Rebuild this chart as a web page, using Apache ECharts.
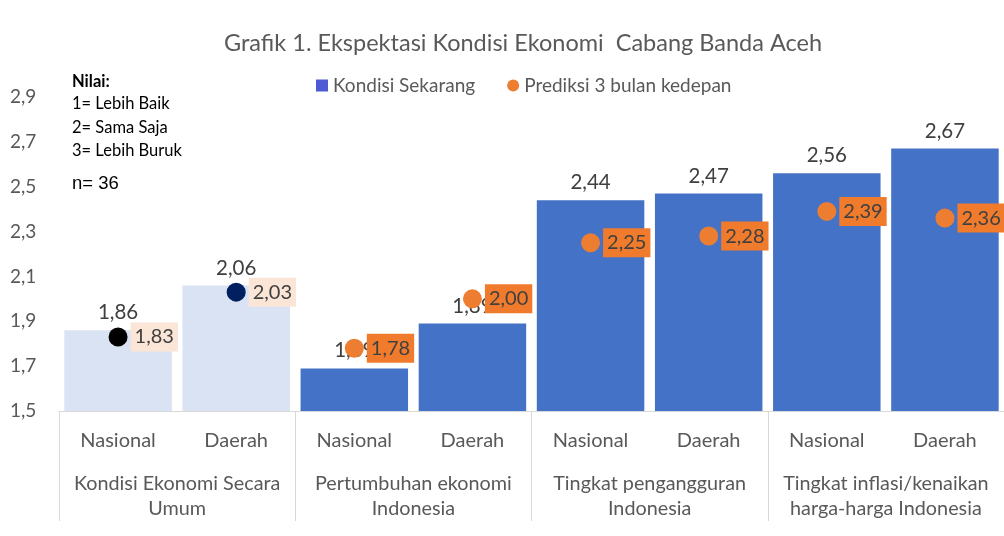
<!DOCTYPE html>
<html>
<head>
<meta charset="utf-8">
<script src="https://cdn.jsdelivr.net/npm/echarts@6/dist/echarts.min.js"></script>
<style>
html, body { margin: 0; padding: 0; background: #fff; }
#chart { width: 1004px; height: 536px; }
</style>
</head>
<body>
<div id="chart"></div>
<script>
// data
var groups = ['Kondisi Ekonomi Secara\nUmum', 'Pertumbuhan ekonomi\nIndonesia', 'Tingkat pengangguran\nIndonesia', 'Tingkat inflasi/kenaikan\nharga-harga Indonesia'];
var categories = ['Nasional', 'Daerah', 'Nasional', 'Daerah', 'Nasional', 'Daerah', 'Nasional', 'Daerah'];
var kondisiSekarang = [1.86, 2.06, 1.69, 1.89, 2.44, 2.47, 2.56, 2.67];
var prediksi = [1.83, 2.03, 1.78, 2.00, 2.25, 2.28, 2.39, 2.36];
var yTicks = [1.5, 1.7, 1.9, 2.1, 2.3, 2.5, 2.7, 2.9];

var FONT = 'Lato';
var fmt = function (v) { return v.toFixed(2).replace('.', ','); };

var barData = kondisiSekarang.map(function (v, i) {
    return { value: v, itemStyle: { color: i < 2 ? '#DAE3F3' : '#4472C6' } };
});
var dotColors = ['#000000', '#002060'];
var dotData = prediksi.map(function (v, i) {
    return {
        value: v,
        itemStyle: { color: i < 2 ? dotColors[i] : '#ED7D31' },
        label: { backgroundColor: i < 2 ? '#FBE5D6' : '#F07B2C' }
    };
});

var chart = echarts.init(document.getElementById('chart'));
chart.setOption({
    animation: false,
    textStyle: { fontFamily: FONT },
    title: {
        text: 'Grafik 1. Ekspektasi Kondisi Ekonomi  Cabang Banda Aceh',
        left: 219,
        top: 26,
        textStyle: { fontFamily: FONT, fontSize: 23.5, fontWeight: 'normal', color: '#595959' }
    },
    legend: {
        left: 311,
        top: 71,
        itemGap: 32,
        itemWidth: 12,
        itemHeight: 12,
        textStyle: { fontFamily: FONT, fontSize: 19, color: '#595959' },
        data: [
            { name: 'Kondisi Sekarang', icon: 'rect', itemStyle: { color: '#4F5BD5' } },
            { name: 'Prediksi 3 bulan kedepan', icon: 'circle', itemStyle: { color: '#ED7D31' } }
        ]
    },
    grid: { left: 59, right: -7, top: 97, bottom: 125 },
    xAxis: [
        {
            type: 'category',
            position: 'bottom',
            data: categories,
            axisLine: { lineStyle: { color: '#D9D9D9' } },
            axisTick: { show: false },
            axisLabel: { margin: 20, fontSize: 20, color: '#595959', fontFamily: FONT, interval: 0 }
        },
        {
            type: 'category',
            position: 'bottom',
            data: groups,
            axisLine: { show: false },
            axisTick: { show: true, length: 110, lineStyle: { color: '#D9D9D9' } },
            axisLabel: { margin: 60, fontSize: 19.8, lineHeight: 25, color: '#595959', fontFamily: FONT, interval: 0, align: 'center' }
        }
    ],
    yAxis: {
        type: 'value',
        min: 1.5,
        max: 2.9,
        interval: 0.2,
        splitLine: { show: false },
        axisLine: { show: false },
        axisTick: { show: false },
        axisLabel: {
            align: 'left',
            margin: 49,
            fontSize: 19,
            color: '#595959',
            fontFamily: FONT,
            formatter: function (v) {
                var t = yTicks.find(function (k) { return Math.abs(k - v) < 1e-6; });
                return t === undefined ? '' : t.toFixed(1).replace('.', ',');
            }
        }
    },
    series: [
        {
            name: 'Kondisi Sekarang',
            type: 'bar',
            xAxisIndex: 0,
            barCategoryGap: '9%',
            data: barData,
            z: 2,
            label: {
                show: true,
                position: 'top',
                distance: 7,
                fontSize: 20.5,
                color: '#404040',
                fontFamily: FONT,
                formatter: function (p) { return fmt(p.value); }
            }
        },
        {
            name: 'Prediksi 3 bulan kedepan',
            type: 'scatter',
            xAxisIndex: 0,
            symbol: 'circle',
            symbolSize: 19,
            itemStyle: { color: '#ED7D31', opacity: 1 },
            data: dotData,
            z: 5,
            label: {
                show: true,
                position: 'right',
                distance: 3,
                fontSize: 20,
                color: '#404040',
                fontFamily: FONT,
                padding: [5, 4, 4, 4],
                formatter: function (p) { return fmt(p.value); }
            }
        }
    ],
    graphic: [
        {
            type: 'text', left: 72, top: 73,
            style: { text: 'Nilai:', font: 'bold 16.5px Lato', fill: '#000' }
        },
        {
            type: 'text', left: 72, top: 92,
            style: { text: '1= Lebih Baik\n2= Sama Saja\n3= Lebih Buruk', font: '16.5px Lato', lineHeight: 23.5, fill: '#000' }
        },
        {
            type: 'text', left: 72, top: 174,
            style: { text: 'n= 36', font: '18.5px "Liberation Sans"', fill: '#000' }
        }
    ]
});
</script>
</body>
</html>
